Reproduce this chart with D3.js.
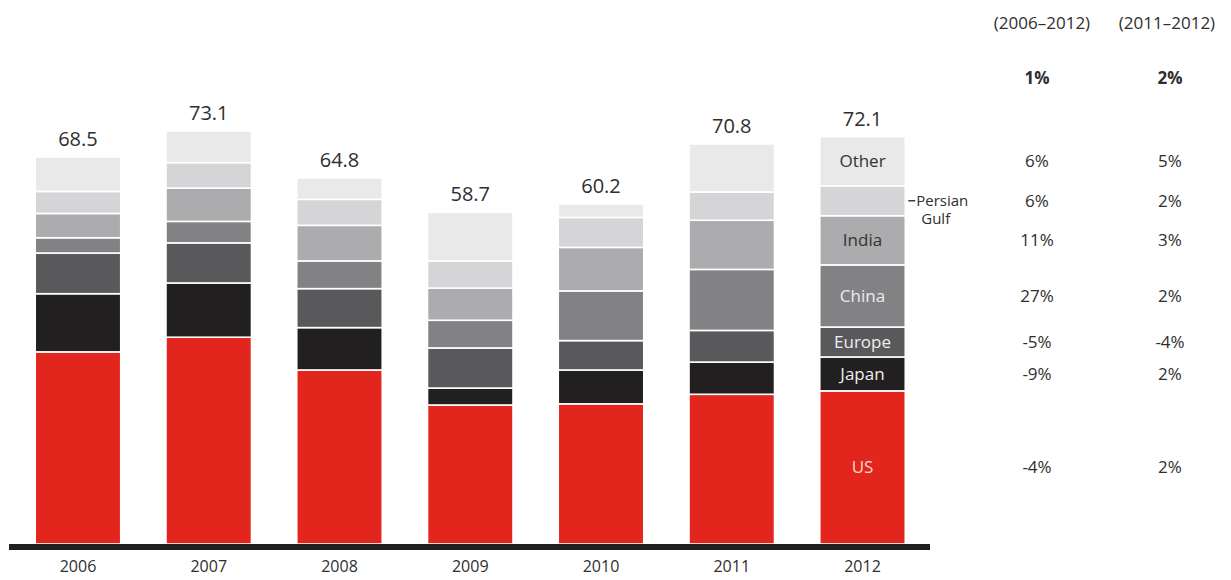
<!DOCTYPE html>
<html>
<head>
<meta charset="utf-8">
<script src="https://cdn.jsdelivr.net/npm/d3@7"></script>
<style>
  html, body { margin: 0; padding: 0; background: #fff; }
  svg { display: block; font-family: "Open Sans", "Noto Sans", sans-serif; }
</style>
</head>
<body>
<svg id="chart" width="1231" height="580"></svg>
<script>
// Years on the x axis
const years = ["2006", "2007", "2008", "2009", "2010", "2011", "2012"];
// Stack order, bottom to top
const regions = ["US", "Japan", "Europe", "China", "India", "Persian Gulf", "Other"];

// Values per region, one per year
const usValues          = [34.0, 36.6, 30.8, 24.6, 24.8, 26.5, 27.1];
const japanValues       = [10.3,  9.6,  7.5,  3.0,  6.0,  5.7,  6.0];
const europeValues      = [ 7.2,  7.1,  6.9,  7.1,  5.2,  5.6,  5.3];
const chinaValues       = [ 2.7,  3.8,  4.9,  4.9,  8.8, 10.8, 11.0];
const indiaValues       = [ 4.3,  5.9,  6.3,  5.7,  7.7,  8.7,  8.7];
const persianGulfValues = [ 3.9,  4.5,  4.6,  4.8,  5.3,  5.0,  5.3];
const otherValues       = [ 6.1,  5.6,  3.8,  8.6,  2.4,  8.5,  8.7];

// Totals printed above the bars
const totals = [68.5, 73.1, 64.8, 58.7, 60.2, 70.8, 72.1];

// Growth columns on the right
const periodLabels = ["(2006–2012)", "(2011–2012)"];
const totalGrowth  = ["1%", "2%"];
const growth0612   = ["-4%", "-9%", "-5%", "27%", "11%", "6%", "6%"];
const growth1112   = ["2%", "2%", "-4%", "2%", "3%", "2%", "5%"];

// Region labels written inside the last bar
const barLabels = ["US", "Japan", "Europe", "China", "India", null, "Other"];

const regionColors = ["#e2261d", "#221f20", "#59585a", "#828184", "#acabae", "#d5d5d7", "#e9e9e9"];
const labelColors  = ["#f8d6d2", "#eeeeee", "#eeeeee", "#ececec", "#333333", "#333333", "#333333"];

const seriesValues = [usValues, japanValues, europeValues, chinaValues, indiaValues, persianGulfValues, otherValues];
const table = years.map((year, i) => {
  const row = { year };
  regions.forEach((r, j) => { row[r] = seriesValues[j][i]; });
  return row;
});

const svg = d3.select("#chart");
const textColor = "#2e2e2e";

const x = d3.scaleBand()
  .domain(years)
  .range([12.6, 927.9])
  .paddingInner(0.346)
  .paddingOuter(0.173);

const y = d3.scaleLinear()
  .domain([0, 80])
  .range([544, 92]);

const stacked = d3.stack().keys(regions)(table);

const color = d3.scaleOrdinal().domain(regions).range(regionColors);

// Stacked segments, separated by thin white rules
svg.append("g")
  .selectAll("g")
  .data(stacked)
  .join("g")
    .attr("fill", d => color(d.key))
  .selectAll("rect")
  .data(d => d)
  .join("rect")
    .attr("x", d => x(d.data.year))
    .attr("width", x.bandwidth())
    .attr("y", d => y(d[1]))
    .attr("height", d => y(d[0]) - y(d[1]))
    .attr("stroke", "#fff")
    .attr("stroke-width", 1.6);

// Totals above bars
svg.append("g")
  .selectAll("text")
  .data(totals)
  .join("text")
    .attr("x", (d, i) => x(years[i]) + x.bandwidth() / 2)
    .attr("y", d => y(d) - 11)
    .attr("text-anchor", "middle")
    .attr("font-size", 20)
    .attr("fill", textColor)
    .text(d => d.toFixed(1));

// Baseline rule
svg.append("line")
  .attr("x1", 9).attr("x2", 930)
  .attr("y1", y(0) + 3).attr("y2", y(0) + 3)
  .attr("stroke", "#231f20")
  .attr("stroke-width", 6);

// Year axis
const xAxis = svg.append("g")
  .attr("transform", `translate(0,${y(0) + 6})`)
  .call(d3.axisBottom(x).tickSize(0).tickPadding(11));
xAxis.select(".domain").remove();
xAxis.selectAll("text")
  .attr("font-size", 16)
  .attr("font-family", "\"Open Sans\", sans-serif")
  .attr("fill", textColor);

// Region names inside the 2012 bar
const lastIdx = years.length - 1;
const lastYear = years[lastIdx];
const segMid = j => (y(stacked[j][lastIdx][0]) + y(stacked[j][lastIdx][1])) / 2;

svg.append("g")
  .selectAll("text")
  .data(regions.map((r, j) => ({ r, j })).filter(d => barLabels[d.j]))
  .join("text")
    .attr("x", x(lastYear) + x.bandwidth() / 2)
    .attr("y", d => segMid(d.j))
    .attr("dy", "0.35em")
    .attr("text-anchor", "middle")
    .attr("font-size", 17)
    .attr("fill", d => labelColors[d.j])
    .text(d => barLabels[d.j]);

// Persian Gulf callout beside the bar
const pgIdx = regions.indexOf("Persian Gulf");
const pgY = segMid(pgIdx);
const barRight = x(lastYear) + x.bandwidth();
svg.append("line")
  .attr("x1", barRight + 3).attr("x2", barRight + 10)
  .attr("y1", pgY).attr("y2", pgY)
  .attr("stroke", textColor).attr("stroke-width", 1.4);
svg.append("text")
  .attr("x", barRight + 11)
  .attr("y", pgY)
  .attr("dy", "0.35em")
  .attr("font-size", 15)
  .attr("fill", textColor)
  .text("Persian");
svg.append("text")
  .attr("x", barRight + 16)
  .attr("y", pgY + 18)
  .attr("dy", "0.35em")
  .attr("font-size", 15)
  .attr("fill", textColor)
  .text("Gulf");

// Growth columns
const colX = [1037, 1170];
const headerX = [1042, 1167];

svg.append("g")
  .selectAll("text")
  .data(periodLabels)
  .join("text")
    .attr("x", (d, i) => headerX[i])
    .attr("y", 29)
    .attr("text-anchor", "middle")
    .attr("font-size", 17)
    .attr("fill", textColor)
    .text(d => d);

svg.append("g")
  .selectAll("text")
  .data(totalGrowth)
  .join("text")
    .attr("x", (d, i) => colX[i])
    .attr("y", 84)
    .attr("text-anchor", "middle")
    .attr("font-size", 17)
    .attr("font-weight", "bold")
    .attr("fill", textColor)
    .text(d => d);

[growth0612, growth1112].forEach((col, c) => {
  svg.append("g")
    .selectAll("text")
    .data(col)
    .join("text")
      .attr("x", colX[c])
      .attr("y", (d, j) => segMid(j))
      .attr("dy", "0.35em")
      .attr("text-anchor", "middle")
      .attr("font-size", 17)
      .attr("fill", textColor)
      .text(d => d);
});
</script>
</body>
</html>
